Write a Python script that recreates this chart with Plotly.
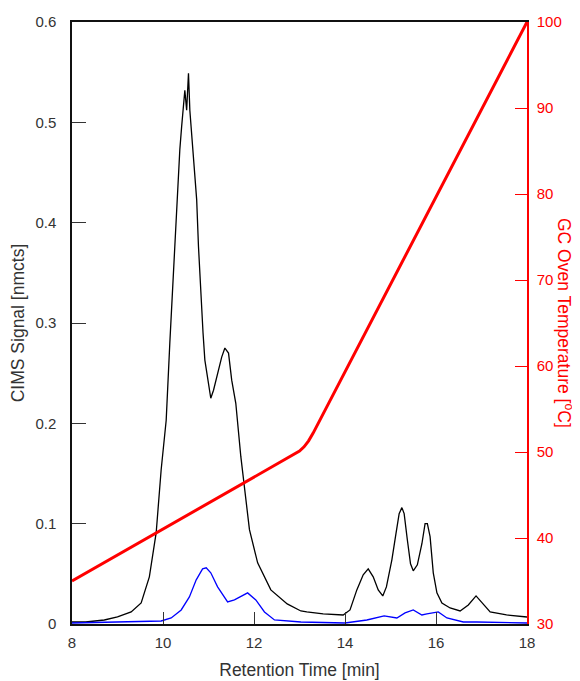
import plotly.graph_objects as go

# ---- data ----
black_t = [8.0, 8.3, 8.71, 9.0, 9.3, 9.52, 9.70, 9.85, 9.96, 10.07, 10.15, 10.23, 10.30,
           10.37, 10.41, 10.45, 10.48, 10.52, 10.56, 10.59, 10.63, 10.67, 10.70, 10.74,
           10.78, 10.83, 10.88, 10.92, 11.0, 11.05, 11.11, 11.16, 11.21, 11.29, 11.36,
           11.44, 11.51, 11.60, 11.71, 11.79, 11.90, 12.08, 12.37, 12.73, 13.03, 13.16,
           13.52, 13.96, 14.11, 14.26, 14.40, 14.51, 14.62, 14.73, 14.83, 14.91, 15.03,
           15.12, 15.19, 15.25, 15.30, 15.37, 15.44, 15.50, 15.59, 15.69, 15.76, 15.81,
           15.87, 15.94, 16.02, 16.13, 16.31, 16.53, 16.71, 16.88, 17.0, 17.19, 17.55, 18.0]
black_v = [0.002, 0.002, 0.004, 0.007, 0.012, 0.021, 0.047, 0.091, 0.154, 0.203, 0.280,
           0.350, 0.423, 0.473, 0.496, 0.519, 0.532, 0.512, 0.549, 0.512, 0.486, 0.470,
           0.446, 0.423, 0.376, 0.330, 0.290, 0.263, 0.240, 0.225, 0.233, 0.242, 0.253,
           0.266, 0.275, 0.270, 0.243, 0.220, 0.167, 0.137, 0.094, 0.061, 0.034, 0.020,
           0.013, 0.012, 0.010, 0.009, 0.014, 0.034, 0.049, 0.055, 0.047, 0.034, 0.028,
           0.037, 0.064, 0.090, 0.110, 0.116, 0.110, 0.084, 0.060, 0.053, 0.059, 0.080,
           0.100, 0.100, 0.087, 0.051, 0.031, 0.021, 0.016, 0.013, 0.019, 0.028, 0.022,
           0.012, 0.009, 0.007]

blue_t = [8.0, 9.0, 9.96, 10.18, 10.4, 10.58, 10.73, 10.87, 10.95, 11.05, 11.2, 11.42,
          11.57, 11.86, 12.04, 12.23, 12.45, 13.03, 14.0, 14.48, 14.86, 15.14, 15.32,
          15.5, 15.69, 15.8, 16.05, 16.24, 16.6, 16.9, 18.0]
blue_v = [0.001, 0.002, 0.003, 0.006, 0.014, 0.027, 0.044, 0.055, 0.056, 0.051, 0.037,
          0.022, 0.024, 0.031, 0.024, 0.012, 0.004, 0.002, 0.001, 0.004, 0.008, 0.006,
          0.011, 0.014, 0.009, 0.010, 0.012, 0.006, 0.002, 0.002, 0.001]

temp_t = [8.0, 12.9, 13.0, 13.1, 13.2, 13.3, 18.0]
temp_v = [35.0, 49.7, 50.1, 50.6, 51.3, 52.2, 100.0]

x_ticks = [8, 10, 12, 14, 16, 18]
y_ticks = [0, 0.1, 0.2, 0.3, 0.4, 0.5, 0.6]
t_ticks = [30, 40, 50, 60, 70, 80, 90, 100]

FONT = "Liberation Sans, Arial, sans-serif"
TXT = "#333333"

fig = go.Figure()
fig.add_trace(go.Scatter(x=temp_t, y=temp_v, mode="lines", yaxis="y2",
                         line=dict(color="#ff0000", width=3), showlegend=False))
fig.add_trace(go.Scatter(x=black_t, y=black_v, mode="lines",
                         line=dict(color="#000000", width=1.3), showlegend=False))
fig.add_trace(go.Scatter(x=blue_t, y=blue_v, mode="lines",
                         line=dict(color="#0000ff", width=1.3), showlegend=False))

# the page body has an 8px margin, so the figure is sized to fit inside the window
fig.update_layout(
    width=572, height=673,
    margin=dict(l=64, r=53, t=14, b=57),
    paper_bgcolor="white", plot_bgcolor="white",
    font=dict(family=FONT, size=15, color=TXT),
    xaxis=dict(range=[8, 18], tickvals=x_ticks, ticks="inside", ticklen=12,
               tickcolor="#333333", showline=True, linecolor="#111111", linewidth=1.5,
               mirror=True, showgrid=False, zeroline=False, automargin=False,
               ticklabelstandoff=4,
               title=dict(text="Retention Time [min]", font=dict(size=17.5, color=TXT), standoff=14)),
    yaxis=dict(range=[0, 0.6], tickvals=y_ticks, ticks="inside", ticklen=14,
               tickcolor="#333333", showline=True, linecolor="#111111", linewidth=1.5,
               showgrid=False, zeroline=False, ticklabelstandoff=11, automargin=False,
               title=dict(text="CIMS Signal [nmcts]", font=dict(size=17.5, color=TXT), standoff=12)),
    yaxis2=dict(range=[30, 100], tickvals=t_ticks, overlaying="y", side="right",
                ticks="inside", ticklen=12, tickcolor="#ff0000", showline=True,
                linecolor="#ff0000", linewidth=1.5, showgrid=False, zeroline=False,
                automargin=False,
                tickfont=dict(color="#ff0000", size=15), ticklabelstandoff=5),
    annotations=[dict(text="GC Oven Temperature [<sup>o</sup>C]", textangle=90,
                      xref="paper", yref="paper", x=1, y=0.5, xanchor="center",
                      yanchor="middle", xshift=38,
                      showarrow=False, font=dict(size=17.5, color="#ff0000"))],
)

fig.write_html("out.html")
